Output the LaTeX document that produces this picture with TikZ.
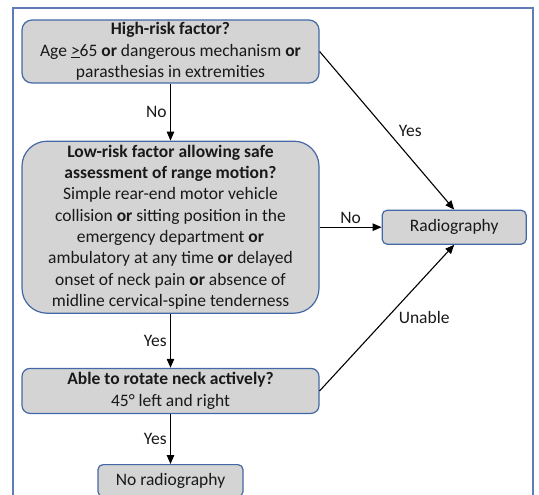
\documentclass[tikz,border=0pt]{standalone}
\usepackage{fontspec}
\setmainfont{Carlito}
\usetikzlibrary{positioning,arrows.meta}
\definecolor{flowblue}{RGB}{68,104,166}
\definecolor{flowframe}{RGB}{95,125,180}
\definecolor{flowgray}{RGB}{212,212,212}

\begin{document}
\begin{tikzpicture}[
  x=1pt,y=1pt,
  node distance=57pt and 62pt,
  every node/.style={font=\fontsize{17.5}{21.3}\selectfont,text=black!90},
  decision/.style={rectangle,rounded corners=10pt,draw=flowblue,line width=1.2pt,
    fill=flowgray,minimum width=297pt,align=center,inner sep=1pt},
  outcome/.style={rectangle,rounded corners=5pt,draw=flowblue,line width=1.2pt,
    fill=flowgray,minimum width=145pt,minimum height=32pt,align=center},
  flow/.style={-{Triangle[length=9pt,width=7.5pt]},line width=1.1pt}
]
\useasboundingbox (0,0) rectangle (539,-495);
\draw[flowframe,line width=1.2pt] (13,-8) rectangle (533,-520);
\node[decision,minimum height=63pt] (high) at (170.5,-51.5)
  {\textbf{High-risk factor?}\\ Age \underline{>}65 \textbf{or} dangerous mechanism \textbf{or}\\ parasthesias in extremities};
\node[decision,rounded corners=25pt,minimum height=172pt,below=of high] (low)
  {\textbf{Low-risk factor allowing safe}\\ \textbf{assessment of range motion?}\\
   Simple rear-end motor vehicle\\ collision \textbf{or} sitting position in the\\
   emergency department \textbf{or}\\ ambulatory at any time \textbf{or} delayed\\
   onset of neck pain \textbf{or} absence of\\ midline cervical-spine tenderness};
\node[outcome,right=of low,minimum width=144pt,minimum height=34pt] (radio) {Radiography};
\node[decision,rounded corners=8pt,minimum height=45pt,below=54pt of low] (rotate)
  {\textbf{Able to rotate neck actively?}\\ 45° left and right};
\node[outcome,below=50pt of rotate] (noradio) {No radiography};
\draw[flow] (high) -- node[midway,left] {No} (low);
\draw[flow] (high.east) -- node[midway,right,xshift=8pt] {Yes} (radio.north);
\draw[flow] (radio.west -| low.east) -- node[midway,above] {No} (radio.west);
\draw[flow] (low) -- node[midway,left] {Yes} (rotate);
\draw[flow] (rotate.east) -- node[midway,right,xshift=8pt] {Unable} (radio.south);
\draw[flow] (rotate) -- node[midway,left] {Yes} (noradio);
\end{tikzpicture}
\end{document}
